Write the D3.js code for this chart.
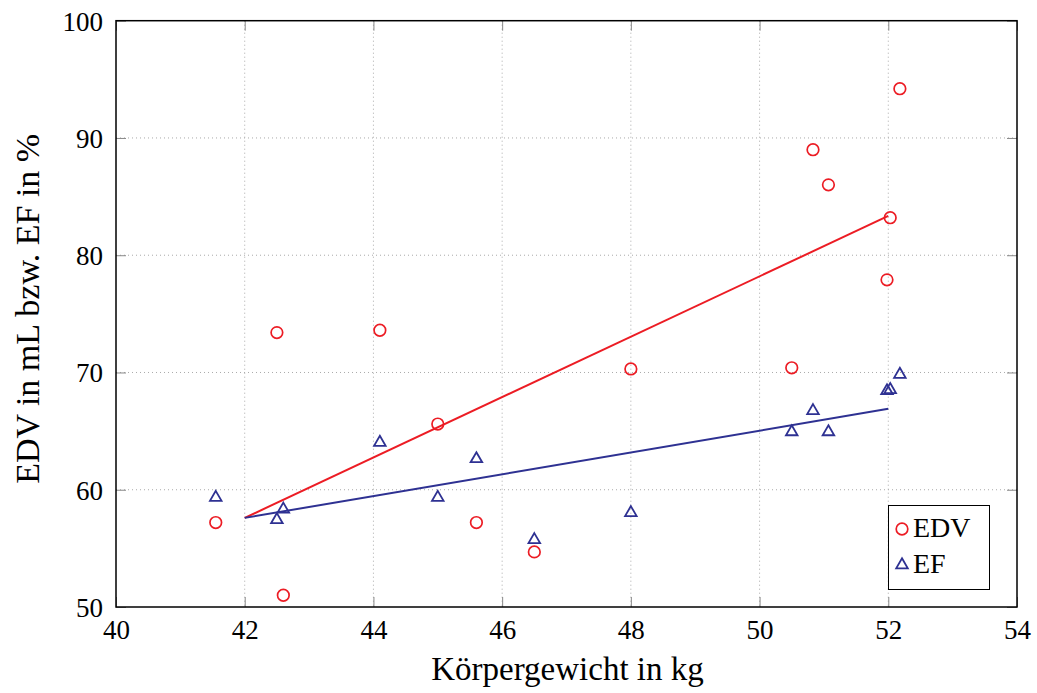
<!DOCTYPE html>
<html>
<head>
<meta charset="utf-8">
<script src="https://cdn.jsdelivr.net/npm/d3@7"></script>
<style>
  html, body { margin: 0; padding: 0; background: #fff; }
  svg { display: block; }
  text { font-family: "Liberation Serif", "Times New Roman", serif; fill: #000; }
</style>
</head>
<body>
<svg id="chart" width="1037" height="693"></svg>
<script>
// ---- data ----
const weight = [41.55, 42.5, 42.6, 44.1, 45.0, 45.6, 46.5, 48.0, 50.5, 50.83, 51.07, 51.98, 52.03, 52.18];
const edv    = [57.2, 73.4, 51.0, 73.6, 65.6, 57.2, 54.7, 70.3, 70.4, 89.0, 86.0, 77.9, 83.2, 94.2];
const ef     = [59.4, 57.5, 58.4, 64.1, 59.4, 62.7, 55.8, 58.1, 65.0, 66.8, 65.0, 68.5, 68.6, 69.9];
const trendX   = [42, 52];
const trendEDV = [57.6, 83.35];
const trendEF  = [57.6, 66.9];
const xTicks = [40, 42, 44, 46, 48, 50, 52, 54];
const yTicks = [50, 60, 70, 80, 90, 100];
const seriesNames = ["EDV", "EF"];

// ---- layout ----
const L = 116, R = 1017, T = 20.7, B = 607;
const red = "#ec1c24", blue = "#2e3192";
const serif = '"Liberation Serif", "Times New Roman", serif';

const svg = d3.select("#chart");
const x = d3.scaleLinear().domain([40, 54]).range([L, R]);
const y = d3.scaleLinear().domain([50, 100]).range([B, T]);

// grid
const grid = svg.append("g");
grid.selectAll("line.vx").data(xTicks.slice(1, -1)).join("line")
  .attr("x1", d => x(d)).attr("x2", d => x(d)).attr("y1", T).attr("y2", B)
  .attr("stroke", "#aaa").attr("stroke-width", 1).attr("stroke-dasharray", "1 3");
grid.selectAll("line.hy").data(yTicks.slice(1, -1)).join("line")
  .attr("y1", d => y(d)).attr("y2", d => y(d)).attr("x1", L).attr("x2", R)
  .attr("stroke", "#aaa").attr("stroke-width", 1).attr("stroke-dasharray", "1 3");

// axes (ticks inside, on all four sides)
const tickLen = 10;
const axB = svg.append("g").attr("transform", `translate(0,${B})`)
  .call(d3.axisBottom(x).tickValues(xTicks).tickSize(-tickLen).tickPadding(16).tickFormat(d3.format("d")));
const axT = svg.append("g").attr("transform", `translate(0,${T})`)
  .call(d3.axisTop(x).tickValues(xTicks).tickSize(-tickLen).tickFormat(""));
const axL = svg.append("g").attr("transform", `translate(${L},0)`)
  .call(d3.axisLeft(y).tickValues(yTicks).tickSize(-tickLen).tickPadding(13).tickFormat(d3.format("d")));
const axR = svg.append("g").attr("transform", `translate(${R},0)`)
  .call(d3.axisRight(y).tickValues(yTicks).tickSize(-tickLen).tickFormat(""));
[axB, axT, axL, axR].forEach(a => {
  a.attr("font-family", serif).attr("font-size", 27);
  a.select(".domain").remove();
  a.selectAll(".tick line").attr("stroke", "#888").attr("stroke-width", 1);
  a.selectAll(".tick text").style("font-family", serif).style("font-size", "27px").attr("fill", "#000");
});
axB.selectAll(".tick text").attr("dy", "0.71em").attr("y", 13);
axL.selectAll(".tick text").attr("dy", "0.35em");

// frame
svg.append("rect").attr("x", L).attr("y", T).attr("width", R - L).attr("height", B - T)
  .attr("fill", "none").attr("stroke", "#000").attr("stroke-width", 1.5);

// trend lines
const line = d3.line().x(d => x(d[0])).y(d => y(d[1]));
svg.append("path").datum(trendX.map((v, i) => [v, trendEDV[i]])).attr("d", line)
  .attr("fill", "none").attr("stroke", red).attr("stroke-width", 2);
svg.append("path").datum(trendX.map((v, i) => [v, trendEF[i]])).attr("d", line)
  .attr("fill", "none").attr("stroke", blue).attr("stroke-width", 2);

// markers
const tri = d3.symbol(d3.symbolTriangle).size(58);
svg.append("g").selectAll("circle").data(weight.map((w, i) => [w, edv[i]])).join("circle")
  .attr("cx", d => x(d[0])).attr("cy", d => y(d[1])).attr("r", 5.8)
  .attr("fill", "none").attr("stroke", red).attr("stroke-width", 1.7);
svg.append("g").selectAll("path").data(weight.map((w, i) => [w, ef[i]])).join("path")
  .attr("d", tri).attr("transform", d => `translate(${x(d[0])},${y(d[1]) + 0.8})`)
  .attr("fill", "none").attr("stroke", blue).attr("stroke-width", 1.8);

// axis labels
svg.append("text").attr("x", (L + R) / 2 + 1).attr("y", 680).attr("text-anchor", "middle")
  .style("font-size", "33px").text("Körpergewicht in kg");
svg.append("text").attr("transform", `translate(39,${(T + B) / 2 - 5}) rotate(-90)`)
  .attr("text-anchor", "middle").style("font-size", "34px").text("EDV in mL bzw. EF in %");

// legend
const lg = svg.append("g");
lg.append("rect").attr("x", 888.5).attr("y", 505.5).attr("width", 101).attr("height", 84)
  .attr("fill", "#fff").attr("stroke", "#000").attr("stroke-width", 1);
lg.append("circle").attr("cx", 902).attr("cy", 529).attr("r", 5.8)
  .attr("fill", "none").attr("stroke", red).attr("stroke-width", 1.7);
lg.append("path").attr("d", tri).attr("transform", "translate(902,565)")
  .attr("fill", "none").attr("stroke", blue).attr("stroke-width", 1.8);
lg.append("text").attr("x", 913).attr("y", 537).style("font-size", "28px").text(seriesNames[0]);
lg.append("text").attr("x", 913).attr("y", 573).style("font-size", "28px").text(seriesNames[1]);
</script>
</body>
</html>
